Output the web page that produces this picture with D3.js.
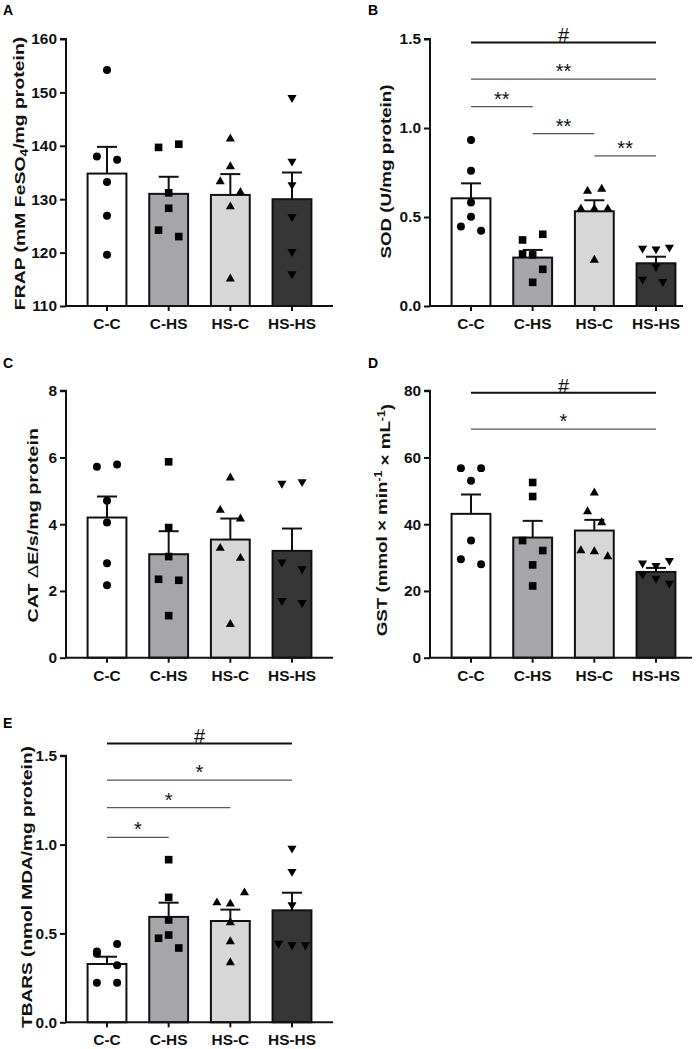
<!DOCTYPE html>
<html><head><meta charset="utf-8">
<script src="https://cdn.jsdelivr.net/npm/d3@7"></script>
<style>body{margin:0;background:#fff}svg{display:block}text{font-family:"Liberation Sans",Arial,sans-serif}</style>
</head><body>
<svg id="c" width="700" height="1049"></svg>
<script>
const groups = ["C-C","C-HS","HS-C","HS-HS"];
const barColors = ["#ffffff","#a6a6aa","#d7d7d7","#363636"];
const shapes = ["circle","square","triangle","triangleDown"];

// FRAP
const frapMean = [134.8,131.0,130.8,130.0];
const frapSem  = [5.0,3.2,3.9,5.0];
const frapPts  = [[154.2,138.0,137.4,133.2,126.9,119.6],[139.7,140.3,131.2,128.3,124.2,123.0],[141.3,136.1,133.3,131.3,128.6,115.1],[149.0,137.1,132.7,126.7,120.2,116.0]];
const frapJit  = [[0,-1,1,0,0,0],[-1,1,0,0,-1,1],[0,0,-1,1,0,0],[0,0,0,0,0,0]];
const frapTicks = [110,120,130,140,150,160];
// SOD
const sodMean = [0.605,0.272,0.532,0.240];
const sodSem  = [0.084,0.043,0.062,0.037];
const sodPts  = [[0.933,0.760,0.581,0.502,0.446,0.423],[0.371,0.403,0.292,0.287,0.206,0.133],[0.646,0.657,0.545,0.545,0.545,0.258],[0.324,0.320,0.330,0.221,0.150,0.137]];
const sodJit  = [[0,0,0,0,-1,1],[-1,1,-1,0,1,0],[-0.67,0.73,-1.33,0,1.33,0],[-1.33,0,1.33,0,-1.33,0.67]];
const sodTicks = [0,0.5,1.0,1.5];
// CAT
const catMean = [4.20,3.10,3.54,3.20];
const catSem  = [0.63,0.69,0.63,0.67];
const catPts  = [[5.72,5.79,4.70,4.05,2.83,2.17],[5.87,3.90,3.03,2.35,2.32,1.26],[5.39,4.42,4.16,3.28,2.98,1.00],[5.22,5.27,2.86,2.66,1.71,1.65]];
const catJit  = [[-1,1,0,0,0,0],[0,0,0,-1,1,0],[0,-1,1,-1,1,0],[-1,1,-1,1,-1,1]];
const catTicks = [0,2,4,6,8];
// GST
const gstMean = [43.1,36.0,38.1,25.7];
const gstSem  = [5.8,5.0,3.2,1.2];
const gstPts  = [[56.8,56.8,53.0,35.1,29.5,28.0],[52.5,48.3,35.1,32.1,27.8,21.5],[49.4,43.8,40.5,32.1,31.8,30.3],[28.3,27.6,29.1,25.0,23.8,22.3]];
const gstJit  = [[-1,1,0,0,-1,1],[0,0,-1,1,0,0],[0,-0.67,0.73,-1.33,0,1.33],[-1.33,0,1.33,-1.33,0,1.33]];
const gstTicks = [0,20,40,60,80];
// TBARS
const tbMean = [0.328,0.593,0.570,0.630];
const tbSem  = [0.041,0.080,0.064,0.099];
const tbPts  = [[0.398,0.385,0.441,0.321,0.223,0.223],[0.915,0.703,0.576,0.491,0.473,0.418],[0.673,0.666,0.729,0.561,0.454,0.336],[0.979,0.848,0.660,0.444,0.435,0.435]];
const tbJit  = [[-1,-1,1,1,-1,1],[0,0,0,0,-1,1],[-1.33,0,1.4,0,0,0],[0,0,0,-1.33,0,1.33]];
const tbTicks = [0,0.5,1.0,1.5];

// significance: [from group, to group, y value, label, main]
const sodSig = [[0,3,1.481,"#",true],[0,3,1.275,"**",false],[0,1,1.12,"**",false],[1,2,0.968,"**",false],[2,3,0.843,"**",false]];
const gstSig = [[0,3,79.4,"#",true],[0,3,68.5,"*",false]];
const tbSig  = [[0,3,1.569,"#",true],[0,3,1.363,"*",false],[0,2,1.208,"*",false],[0,1,1.041,"*",false]];

const svg = d3.select("#c");
const FS = 15.4;

function panel(o){
  const g = svg.append("g");
  const x = d3.scaleBand().domain(groups).range([o.x0, o.x0+267]).paddingInner(0.37).paddingOuter(0.35);
  const y = d3.scaleLinear().domain(o.domain).range([o.yb, o.yt]);
  const bw = x.bandwidth();
  const cx = i => x(groups[i]) + bw/2;
  g.append("text").attr("x", o.lx).attr("y", o.ly).attr("font-size",14).attr("font-weight","bold").text(o.letter);
  g.selectAll("rect.bar").data(groups).join("rect")
    .attr("x", d=>x(d)).attr("width", bw)
    .attr("y", (d,i)=>y(o.mean[i])).attr("height",(d,i)=>y(o.domain[0])-y(o.mean[i]))
    .attr("fill",(d,i)=>barColors[i]).attr("stroke","#111").attr("stroke-width",2);
  groups.forEach((d,i)=>{
    const top = y(o.mean[i]+o.sem[i]);
    g.append("line").attr("x1",cx(i)).attr("x2",cx(i)).attr("y1",y(o.mean[i])).attr("y2",top).attr("stroke","#111").attr("stroke-width",2);
    g.append("line").attr("x1",cx(i)-10).attr("x2",cx(i)+10).attr("y1",top).attr("y2",top).attr("stroke","#111").attr("stroke-width",2);
  });
  const symTypes = {circle:d3.symbolCircle, square:d3.symbolSquare, triangle:d3.symbolTriangle, triangleDown:d3.symbolTriangle};
  const symSize = {circle:50, square:58, triangle:36, triangleDown:36};
  groups.forEach((d,i)=>{
    const sh = shapes[i];
    const sym = d3.symbol().type(symTypes[sh]).size(symSize[sh]);
    o.pts[i].forEach((v,j)=>{
      const px = cx(i) + o.jit[i][j]*bw*0.26;
      const py = y(v);
      g.append("path").attr("d", sym()).attr("fill","#000")
        .attr("transform", `translate(${px},${py})` + (sh==="triangleDown"?" rotate(180)":""));
    });
  });
  const ya = d3.axisLeft(y).tickValues(o.ticks).tickSize(6).tickPadding(3).tickFormat(o.fmt);
  const yg = g.append("g").attr("transform",`translate(${o.x0},0)`).call(ya);
  yg.select(".domain").attr("stroke","#111").attr("stroke-width",2).attr("d",`M-6,${o.yt}H0V${o.yb}`);
  yg.selectAll(".tick line").attr("stroke","#111").attr("stroke-width",2);
  yg.selectAll(".tick text").attr("font-size",FS).attr("font-weight","bold").attr("fill","#111").attr("font-family","Liberation Sans, Arial, sans-serif");
  const xa = d3.axisBottom(x).tickSize(5).tickPadding(7);
  const xg = g.append("g").attr("transform",`translate(0,${o.yb})`).call(xa);
  xg.select(".domain").attr("stroke","#111").attr("stroke-width",2).attr("d",`M${o.x0},0H${o.x1}`);
  xg.selectAll(".tick line").attr("stroke","#111").attr("stroke-width",2);
  xg.selectAll(".tick text").attr("font-size",FS).attr("font-weight","bold").attr("fill","#111").attr("font-family","Liberation Sans, Arial, sans-serif");
  const t = g.append("text").attr("transform",`translate(${o.x0-o.tOff},${(o.yt+o.yb)/2 + (o.tShift||0)}) rotate(-90) scale(${o.tScale},1)`)
    .attr("text-anchor","middle").attr("font-size",FS).attr("font-weight","bold").attr("fill","#111");
  o.title(t);
  (o.sig||[]).forEach(s=>{
    const [a,b,v,lab,main] = s;
    const yy = y(v);
    g.append("line").attr("x1",cx(a)).attr("x2",cx(b)).attr("y1",yy).attr("y2",yy)
      .attr("stroke", main?"#111":"#555").attr("stroke-width", main?2:1.3);
    g.append("text").attr("x",(cx(a)+cx(b))/2).attr("y", main? yy : yy-1).attr("text-anchor","middle")
      .attr("font-size", main?20:20).attr("fill","#111").text(lab);
  });
}

const f1 = d3.format(".1f"), f0 = d3.format("d");
panel({letter:"A",lx:3,ly:15,x0:66,x1:333,yb:306,yt:39,domain:[110,160],mean:frapMean,sem:frapSem,pts:frapPts,jit:frapJit,ticks:frapTicks,fmt:f0,tOff:41,tScale:1.26,tShift:1,
  title:t=>{t.append("tspan").text("FRAP (mM FeSO");t.append("tspan").attr("font-size",11).attr("dy","0.3em").text("4");t.append("tspan").attr("dy","-0.3em").text("/mg protein)");}});
panel({letter:"B",lx:368,ly:15,x0:430,x1:683,yb:306,yt:39,domain:[0,1.5],mean:sodMean,sem:sodSem,pts:sodPts,jit:sodJit,ticks:sodTicks,fmt:f1,tOff:39,tScale:1.22,tShift:-1,sig:sodSig,
  title:t=>t.text("SOD (U/mg protein)")});
panel({letter:"C",lx:3,ly:368,x0:66,x1:333,yb:657.7,yt:390.7,domain:[0,8],mean:catMean,sem:catSem,pts:catPts,jit:catJit,ticks:catTicks,fmt:f0,tOff:28,tScale:1.28,tShift:1,
  title:t=>{t.append("tspan").text("CAT ");t.append("tspan").attr("font-weight","normal").text("\u0394");t.append("tspan").text("E/s/mg protein");}});
panel({letter:"D",lx:368,ly:368,x0:430,x1:692,yb:657.7,yt:390.7,domain:[0,80],mean:gstMean,sem:gstSem,pts:gstPts,jit:gstJit,ticks:gstTicks,fmt:f0,tOff:43,tScale:1.22,tShift:-4,sig:gstSig,
  title:t=>{t.append("tspan").text("GST (mmol \u00d7 min");t.append("tspan").attr("font-size",10).attr("dy","-0.5em").text("-1");t.append("tspan").attr("dy","0.5em").text(" \u00d7 mL");t.append("tspan").attr("font-size",10).attr("dy","-0.5em").text("-1");t.append("tspan").attr("dy","0.5em").text(")");}});
panel({letter:"E",lx:3,ly:728,x0:66,x1:333,yb:1022.3,yt:755.7,domain:[0,1.5],mean:tbMean,sem:tbSem,pts:tbPts,jit:tbJit,ticks:tbTicks,fmt:f1,tOff:34.5,tScale:1.24,tShift:-2,sig:tbSig,
  title:t=>t.text("TBARS (nmol MDA/mg protein)")});
</script>
</body></html>
